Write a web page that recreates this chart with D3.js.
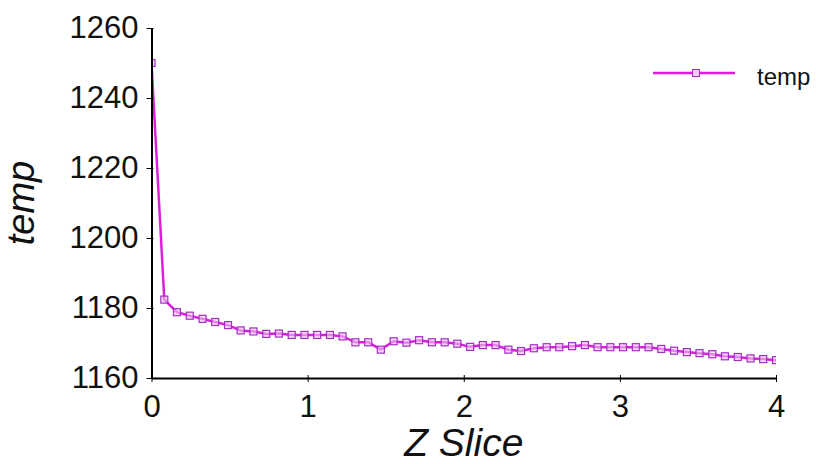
<!DOCTYPE html>
<html>
<head>
<meta charset="utf-8">
<script src="https://cdn.jsdelivr.net/npm/d3@7"></script>
<style>
  body { margin: 0; background: #fff; }
  svg { display: block; font-family: "Liberation Sans", Arial, sans-serif; }
  .axis path, .axis line { stroke: #000; }
  .axis path { stroke-width: 2; }
  .axis text { font-size: 31px; fill: #111; }
</style>
</head>
<body>
<div id="chart"></div>
<script>
const width = 816;
const height = 464;

// z slice positions and temperature readings
const zSlice = [0, 0.082, 0.163, 0.245, 0.327, 0.408, 0.490, 0.571, 0.653, 0.735,
  0.816, 0.898, 0.980, 1.061, 1.143, 1.224, 1.306, 1.388, 1.469, 1.551,
  1.633, 1.714, 1.796, 1.878, 1.959, 2.041, 2.122, 2.204, 2.286, 2.367,
  2.449, 2.531, 2.612, 2.694, 2.776, 2.857, 2.939, 3.020, 3.102, 3.184,
  3.265, 3.347, 3.429, 3.510, 3.592, 3.673, 3.755, 3.837, 3.918, 4.000];
const temp = [1250, 1182.4, 1178.8, 1177.8, 1176.9, 1176.0, 1175.1, 1173.6, 1173.3, 1172.6,
  1172.7, 1172.3, 1172.3, 1172.3, 1172.3, 1171.9, 1170.2, 1170.2, 1168.1, 1170.5,
  1170.1, 1170.8, 1170.2, 1170.2, 1169.8, 1168.9, 1169.4, 1169.4, 1168.1, 1167.7,
  1168.5, 1168.8, 1168.8, 1169.1, 1169.4, 1168.8, 1168.8, 1168.8, 1168.8, 1168.8,
  1168.3, 1167.8, 1167.4, 1167.1, 1166.8, 1166.2, 1166.0, 1165.6, 1165.4, 1165.1];
const xTicks = [0, 1, 2, 3, 4];
const yTicks = [1160, 1180, 1200, 1220, 1240, 1260];
const seriesName = "temp";

const lineColor = "#dc1edc";
const markerColor = "#a22ec4";

const margin = { top: 28, right: 40, bottom: 86, left: 151.5 };

const data = zSlice.map((z, i) => ({ z: z, t: temp[i] }));

const svg = d3.select("#chart").append("svg")
  .attr("width", width)
  .attr("height", height);

const x = d3.scaleLinear()
  .domain([0, 4])
  .range([margin.left, width - margin.right]);

const y = d3.scaleLinear()
  .domain([1160, 1260])
  .range([height - margin.bottom, margin.top]);

svg.append("clipPath").attr("id", "plotClip")
  .append("rect")
  .attr("x", x(0))
  .attr("y", 0)
  .attr("width", x(4) - x(0))
  .attr("height", height);

const plot = svg.append("g").attr("clip-path", "url(#plotClip)");

plot.append("path")
  .datum(data)
  .attr("fill", "none")
  .attr("stroke", lineColor)
  .attr("stroke-width", 2.5)
  .attr("d", d3.line().x(d => x(d.z)).y(d => y(d.t)));

plot.selectAll("rect.marker")
  .data(data)
  .enter().append("rect")
  .attr("class", "marker")
  .attr("x", d => x(d.z) - 3.5)
  .attr("y", d => y(d.t) - 3.5)
  .attr("width", 7)
  .attr("height", 7)
  .attr("fill", "#f0c8f0")
  .attr("fill-opacity", 0.6)
  .attr("stroke", markerColor)
  .attr("stroke-width", 1.2);

// axes
const xAxis = svg.append("g")
  .attr("class", "axis")
  .attr("transform", `translate(0,${y(1160)})`)
  .call(d3.axisBottom(x).tickValues(xTicks).tickFormat(d3.format("d")).tickSize(4).tickSizeOuter(0).tickPadding(13));
xAxis.selectAll(".tick line").attr("y1", -3);

const yAxis = svg.append("g")
  .attr("class", "axis")
  .attr("transform", `translate(${x(0)},0)`)
  .call(d3.axisLeft(y).tickValues(yTicks).tickFormat(d3.format("d")).tickSize(5).tickSizeOuter(0).tickPadding(8));
yAxis.selectAll(".tick line").attr("x1", 2);

// axis titles
svg.append("text")
  .attr("x", (x(0) + x(4)) / 2)
  .attr("y", 456)
  .attr("text-anchor", "middle")
  .style("font-size", "39px")
  .style("font-style", "italic")
  .style("fill", "#111")
  .text("Z Slice");

svg.append("text")
  .attr("transform", "rotate(-90)")
  .attr("x", -(y(1160) + y(1260)) / 2)
  .attr("y", 34)
  .attr("text-anchor", "middle")
  .style("font-size", "38px")
  .style("font-style", "italic")
  .style("fill", "#111")
  .text("temp");

// legend
const legend = svg.append("g").attr("transform", "translate(653,73)");
legend.append("line")
  .attr("x1", 0).attr("x2", 82)
  .attr("stroke", lineColor)
  .attr("stroke-width", 2.5);
legend.append("rect")
  .attr("x", 39.5).attr("y", -3.5)
  .attr("width", 7).attr("height", 7)
  .attr("fill", "#f0c8f0")
  .attr("stroke", markerColor);
legend.append("text")
  .attr("x", 104)
  .attr("y", 12)
  .style("font-size", "24px")
  .style("fill", "#111")
  .text(seriesName);
</script>
</body>
</html>
